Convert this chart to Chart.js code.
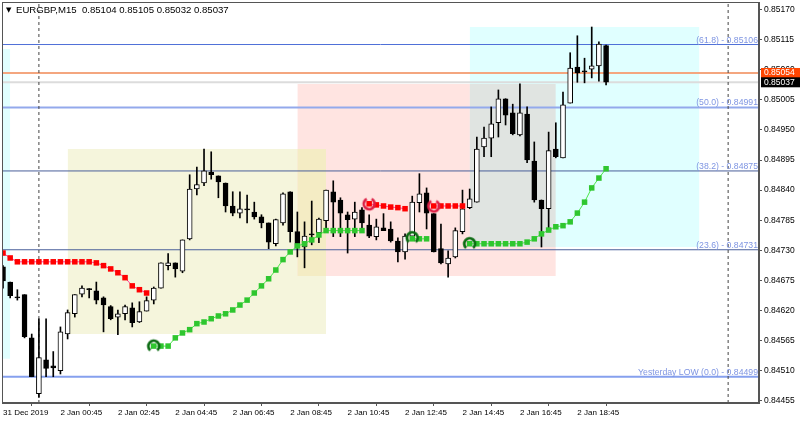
<!DOCTYPE html>
<html lang="en">
<head>
  <meta charset="UTF-8">
  <title>EURGBP,M15</title>
  <script src="https://cdn.jsdelivr.net/npm/chart.js"></script>
  <style>
    html, body { margin: 0; padding: 0; background: #fff; }
    canvas { display: block; }
  </style>
</head>
<body>
  <canvas id="chart" width="800" height="423"></canvas>
  <script>
    // bars are numbered from the left, one label every 8 bars
    const timeLabels = ['31 Dec 2019', '2 Jan 00:45', '2 Jan 02:45', '2 Jan 04:45', '2 Jan 06:45', '2 Jan 08:45',
      '2 Jan 10:45', '2 Jan 12:45', '2 Jan 14:45', '2 Jan 16:45', '2 Jan 18:45'];
    const priceTicks = [0.85170, 0.85115, 0.85060, 0.85005, 0.84950, 0.84895, 0.84840, 0.84785, 0.84730,
      0.84675, 0.84620, 0.84565, 0.84510, 0.84455];

    const opens = [0.84700,0.84672,0.84645,0.84649,0.84570,0.84468,0.84530,0.84519,0.84510,0.84577,
      0.84614,0.84650,0.84660,0.84656,0.84643,0.84627,0.84608,0.84614,0.84625,0.84599,
      0.84619,0.84639,0.84661,0.84702,0.84707,0.84692,0.84751,0.84842,0.84853,0.84873,
      0.84866,0.84853,0.84811,0.84798,0.84806,0.84800,0.84791,0.84780,0.84742,0.84780,
      0.84837,0.84764,0.84736,0.84760,0.84762,0.84784,0.84837,0.84822,0.84795,0.84787,
      0.84804,0.84776,0.84755,0.84771,0.84769,0.84747,0.84727,0.84756,0.84817,0.84835,
      0.84797,0.84733,0.84705,0.84718,0.84764,0.84808,0.84818,0.84919,0.84935,0.84963,
      0.85007,0.84981,0.84941,0.84979,0.84893,0.84822,0.84806,0.84915,0.84899,0.84999,
      0.85065,0.85058,0.85061,0.85067,0.85104];
    const closes = [0.84674,0.84647,0.84643,0.84572,0.84499,0.84534,0.84514,0.84515,0.84581,0.84616,
      0.84649,0.84661,0.84658,0.84639,0.84630,0.84605,0.84614,0.84627,0.84598,0.84618,
      0.84638,0.84661,0.84707,0.84707,0.84696,0.84749,0.84842,0.84850,0.84875,0.84868,
      0.84855,0.84811,0.84798,0.84806,0.84804,0.84791,0.84780,0.84745,0.84786,0.84833,
      0.84764,0.84735,0.84756,0.84758,0.84787,0.84840,0.84818,0.84798,0.84786,0.84800,
      0.84780,0.84756,0.84773,0.84766,0.84747,0.84727,0.84756,0.84818,0.84833,0.84798,
      0.84727,0.84707,0.84716,0.84766,0.84806,0.84824,0.84915,0.84935,0.84961,0.85007,
      0.84977,0.84943,0.84981,0.84895,0.84822,0.84806,0.84912,0.84901,0.84996,0.85063,
      0.85054,0.85056,0.85067,0.85107,0.85037];
    const highs = [0.84702,0.84672,0.84658,0.84649,0.84577,0.84605,0.84605,0.84545,0.84590,0.84621,
      0.84649,0.84665,0.84660,0.84672,0.84645,0.84629,0.84621,0.84630,0.84634,0.84636,
      0.84645,0.84663,0.84707,0.84724,0.84707,0.84749,0.84868,0.84882,0.84915,0.84910,
      0.84866,0.84853,0.84837,0.84837,0.84831,0.84818,0.84795,0.84780,0.84787,0.84835,
      0.84837,0.84800,0.84782,0.84820,0.84789,0.84840,0.84857,0.84826,0.84800,0.84818,
      0.84808,0.84795,0.84787,0.84797,0.84782,0.84753,0.84760,0.84829,0.84870,0.84844,
      0.84797,0.84778,0.84729,0.84771,0.84840,0.84842,0.84937,0.84955,0.84992,0.85023,
      0.85007,0.84997,0.85034,0.84992,0.84928,0.84822,0.84946,0.84963,0.85019,0.85091,
      0.85122,0.85081,0.85138,0.85111,0.85105];
    const lows = [0.84661,0.84643,0.84639,0.84570,0.84499,0.84461,0.84499,0.84499,0.84504,0.84568,
      0.84608,0.84645,0.84643,0.84632,0.84581,0.84603,0.84576,0.84603,0.84590,0.84598,
      0.84619,0.84632,0.84661,0.84694,0.84681,0.84689,0.84749,0.84831,0.84848,0.84860,
      0.84826,0.84800,0.84793,0.84789,0.84780,0.84787,0.84771,0.84733,0.84738,0.84776,
      0.84745,0.84718,0.84698,0.84740,0.84744,0.84771,0.84755,0.84755,0.84725,0.84755,
      0.84764,0.84753,0.84749,0.84766,0.84745,0.84709,0.84714,0.84756,0.84800,0.84769,
      0.84727,0.84705,0.84681,0.84716,0.84760,0.84806,0.84818,0.84901,0.84901,0.84937,
      0.84959,0.84941,0.84939,0.84890,0.84818,0.84736,0.84764,0.84899,0.84899,0.84999,
      0.85037,0.85036,0.85045,0.85039,0.85032];

    // trend indicator, null where the line is broken
    const redLine = [0.84725,0.84716,0.84709,0.84709,0.84709,0.84709,0.84709,0.84709,0.84709,0.84709,
      0.84709,0.84709,0.84709,0.84707,0.84702,0.84696,0.84689,0.84680,0.84665,0.84658,0.84652,
      null,null,null,null,null,null,null,null,null,null,null,null,null,null,null,
      null,null,null,null,null,null,null,null,null,null,null,null,null,null,null,
      0.84815,0.84813,0.84811,0.84809,0.84808,0.84806,
      null,null,null,
      0.84811,0.84811,0.84811,0.84811,0.84811,
      null,null,null,null,null,null,null,null,null,null,null,null,null,null,null,null,null,null,null,null];
    const greenLine = [null,null,null,null,null,null,null,null,null,null,null,null,null,null,null,null,null,null,null,null,null,
      0.84555,0.84555,0.84555,0.84570,0.84579,0.84585,0.84596,0.84599,0.84605,0.84610,
      0.84614,0.84621,0.84630,0.84639,0.84652,0.84665,0.84678,0.84694,0.84713,0.84727,
      0.84738,0.84742,0.84749,0.84758,0.84766,0.84766,0.84766,0.84766,0.84766,0.84766,
      null,null,null,null,null,null,
      0.84751,0.84751,0.84751,
      null,null,null,null,null,
      0.84742,0.84742,0.84742,0.84742,0.84742,0.84742,0.84742,0.84742,0.84745,0.84751,
      0.84760,0.84767,0.84773,0.84775,0.84782,0.84798,0.84818,0.84844,0.84862,0.84879];
    const greenSignalBars = [21, 57, 65];
    const greenSignalPrices = [0.84555, 0.84753, 0.84742];
    const redSignalBars = [51, 60];
    const redSignalPrices = [0.84815, 0.84811];

    // shaded boxes: first bar, last bar, upper and lower price
    const zoneStarts = [-1, 9, 41, 65, 41, 65];
    const zoneEnds = [1, 45, 77, 97, 45, 77];
    const zoneHighs = [0.85098, 0.84915, 0.85034, 0.85138, 0.84915, 0.85034];
    const zoneLows = [0.84532, 0.84577, 0.84683, 0.84736, 0.84683, 0.84736];
    const zoneColors = ['#e0ffff', '#f5f5dc', '#ffe4e1', '#e0ffff', '#f4ecc4', '#e0e4e1'];

    const levelPrices = [0.85106, 0.84991, 0.84875, 0.84731, 0.84499];
    const levelNames = ['(61.8) - 0.85106', '(50.0) - 0.84991', '(38.2) - 0.84875', '(23.6) - 0.84731', 'Yesterday LOW (0.0) - 0.84499'];
    const levelWidths = [1, 2, 1, 1, 2];
    const levelColors = ['#4f70d8', '#93a9ec', '#4a5f9a', '#4a5f9a', '#86a0ee'];

    const askPrice = 0.85054;
    const bidPrice = 0.85037;
    const cursorBars = [5, 101];

    const xMin = -0.14, xMax = 105.3;
    const yMin = 0.84451, yMax = 0.851837;
    const labelFont = '8.5px "Liberation Sans"';

    function signalIcon(color, gaps) {
      // ring with openings, used as the point image of the signal markers
      const c = document.createElement('canvas');
      c.width = 17; c.height = 17;
      const g = c.getContext('2d');
      g.strokeStyle = color;
      g.lineWidth = 2.8;
      g.beginPath();
      g.arc(8.5, 8.5, 5.4, gaps[0], gaps[1]);
      g.stroke();
      return c;
    }

    function seriesPoints(values) {
      return values.map((v, i) => ({ x: i, y: v }));
    }

    const datasets = [];

    zoneStarts.forEach((start, i) => {
      datasets.push({
        type: 'line',
        data: [{ x: start, y: zoneHighs[i] }, { x: zoneEnds[i], y: zoneHighs[i] }],
        fill: { value: zoneLows[i] },
        backgroundColor: zoneColors[i],
        borderWidth: 0,
        pointRadius: 0,
        order: 30 - i
      });
    });

    levelPrices.forEach((p, i) => {
      datasets.push({
        type: 'line',
        data: [{ x: xMin, y: p }, { x: xMax, y: p }],
        borderColor: levelColors[i],
        borderWidth: levelWidths[i],
        pointRadius: 0,
        order: 20
      });
    });

    datasets.push({
      type: 'line',
      data: [{ x: xMin, y: bidPrice }, { x: xMax, y: bidPrice }],
      borderColor: '#dcdcdc',
      borderWidth: 2,
      pointRadius: 0,
      order: 19
    });
    datasets.push({
      type: 'line',
      data: [{ x: xMin, y: askPrice }, { x: xMax, y: askPrice }],
      borderColor: '#f4a67f',
      borderWidth: 2,
      pointRadius: 0,
      order: 18
    });

    cursorBars.forEach(b => {
      datasets.push({
        type: 'line',
        data: [{ x: b, y: yMin }, { x: b, y: yMax }],
        borderColor: '#444444',
        borderWidth: 1,
        borderDash: [3, 3],
        pointRadius: 0,
        order: 17
      });
    });

    // wicks then bodies
    datasets.push({
      type: 'bar',
      data: highs.map((h, i) => ({ x: i, y: [lows[i], h] })),
      backgroundColor: '#000000',
      barThickness: 1,
      grouped: false,
      order: 6
    });
    datasets.push({
      type: 'bar',
      data: opens.map((o, i) => ({ x: i, y: [o, closes[i]] })),
      backgroundColor: opens.map((o, i) => closes[i] >= o ? '#ffffff' : '#000000'),
      borderColor: '#000000',
      borderWidth: 1,
      borderSkipped: false,
      barThickness: 5,
      minBarLength: 1,
      grouped: false,
      order: 5
    });

    datasets.push({
      type: 'line',
      data: seriesPoints(redLine),
      borderColor: '#ff3fa0',
      borderWidth: 1,
      pointStyle: 'rect',
      pointRadius: 3.9,
      pointBorderWidth: 0,
      pointBackgroundColor: '#ff0000',
      spanGaps: false,
      order: 3
    });
    datasets.push({
      type: 'line',
      data: seriesPoints(greenLine),
      borderColor: '#4ce84c',
      borderWidth: 1,
      pointStyle: 'rect',
      pointRadius: 3.9,
      pointBorderWidth: 0,
      pointBackgroundColor: '#2fc62f',
      spanGaps: false,
      order: 3
    });
    datasets.push({
      type: 'line',
      data: greenSignalBars.map((b, i) => ({ x: b, y: greenSignalPrices[i] })),
      showLine: false,
      pointStyle: signalIcon('#0b6b12', [Math.PI * 0.72, Math.PI * 2.28]),
      order: 2
    });
    datasets.push({
      type: 'line',
      data: redSignalBars.map((b, i) => ({ x: b, y: redSignalPrices[i] })),
      showLine: false,
      pointStyle: signalIcon('#dc2045', [Math.PI * -0.35, Math.PI * 1.35]),
      order: 2
    });

    const extras = {
      id: 'extras',
      afterDraw(chart) {
        const { ctx, chartArea, scales } = chart;
        ctx.save();

        // frame
        ctx.strokeStyle = '#555555';
        ctx.lineWidth = 1;
        ctx.strokeRect(chartArea.left + 0.5, chartArea.top + 0.5, chartArea.width - 1, chartArea.height - 1);

        // level captions sit on top of their lines
        ctx.font = '8.7px "Liberation Sans"';
        ctx.fillStyle = '#7f95e2';
        ctx.textAlign = 'right';
        ctx.textBaseline = 'alphabetic';
        levelPrices.forEach((p, i) => {
          ctx.fillText(levelNames[i], chartArea.right - 1, scales.y.getPixelForValue(p) - 2);
        });

        // price tags on the axis
        ctx.font = labelFont;
        ctx.textAlign = 'left';
        ctx.textBaseline = 'middle';
        const askY = scales.y.getPixelForValue(askPrice);
        const bidY = scales.y.getPixelForValue(bidPrice);
        ctx.fillStyle = '#ff4500';
        ctx.fillRect(761, askY - 5, 39, 10);
        ctx.fillStyle = '#000000';
        ctx.fillRect(761, bidY - 5, 39, 10);
        ctx.fillStyle = '#ffffff';
        ctx.fillText(askPrice.toFixed(5), 764, askY);
        ctx.fillText(bidPrice.toFixed(5), 764, bidY);

        // header
        ctx.fillStyle = '#000000';
        ctx.font = '7px "DejaVu Sans"';
        ctx.fillText('▼', 6, 10);
        ctx.font = '9.6px "Liberation Sans"';
        ctx.fillText('EURGBP,M15  0.85104 0.85105 0.85032 0.85037', 16, 10);
        ctx.restore();
      }
    };

    new Chart(document.getElementById('chart'), {
      type: 'bar',
      data: { datasets },
      plugins: [extras],
      options: {
        responsive: false,
        animation: false,
        layout: { autoPadding: false, padding: { left: 2, top: 2, right: 0, bottom: 0 } },
        plugins: { legend: { display: false }, tooltip: { enabled: false } },
        scales: {
          x: {
            type: 'linear',
            offset: false,
            min: xMin,
            max: xMax,
            border: { color: '#555555' },
            grid: { drawOnChartArea: false, tickLength: 3, color: '#555555' },
            afterBuildTicks(scale) {
              scale.ticks = timeLabels.map((t, i) => ({ value: i * 8 }));
            },
            afterFit(scale) {
              // the first label may run past the left edge without moving the plot
              scale.height = 20;
              scale.paddingLeft = 0;
              scale.paddingRight = 0;
            },
            ticks: {
              autoSkip: false,
              maxRotation: 0,
              align: 'start',
              padding: 2,
              color: '#000000',
              font: { family: 'Liberation Sans', size: 8 },
              callback: v => timeLabels[v / 8]
            }
          },
          y: {
            position: 'right',
            min: yMin,
            max: yMax,
            border: { color: '#555555' },
            grid: { drawOnChartArea: false, tickLength: 3, color: '#555555' },
            afterBuildTicks(scale) {
              scale.ticks = priceTicks.map(v => ({ value: v }));
            },
            afterFit(scale) {
              scale.width = 41;
              scale.paddingTop = 0;
              scale.paddingBottom = 0;
            },
            ticks: {
              autoSkip: false,
              padding: 2,
              color: '#000000',
              font: { family: 'Liberation Sans', size: 8.5 },
              callback: v => v.toFixed(5)
            }
          }
        }
      }
    });
  </script>
</body>
</html>
